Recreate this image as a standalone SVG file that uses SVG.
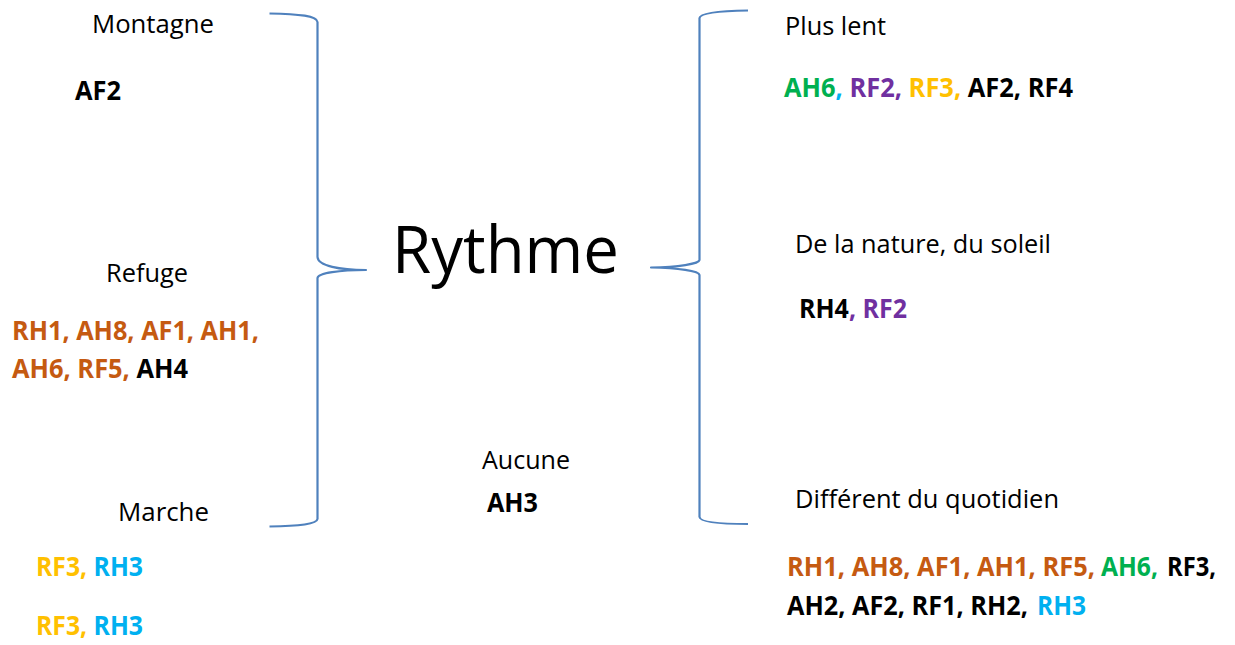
<svg xmlns="http://www.w3.org/2000/svg" width="1235" height="645" viewBox="0 0 1235 645">
  <style>
    .lbl { font-family: "Open Sans", "Liberation Sans", sans-serif; font-size: 26px; fill: #000; }
    .code { font-family: "Open Sans", "Liberation Sans", sans-serif; font-size: 26px; font-weight: bold; fill: #000; }
    .title { font-family: "Open Sans", "Liberation Sans", sans-serif; font-size: 66px; fill: #000; }
    .brace { fill: none; stroke: #4F81BD; stroke-width: 2.2; stroke-linejoin: round; }
    .or { fill: #C55A11; }
    .gr { fill: #00B050; }
    .pu { fill: #7030A0; }
    .ye { fill: #FFC000; }
    .cy { fill: #00B0F0; }
  </style>

  <!-- braces joining the categories to the central word -->
  <g id="connectors">
    <path class="brace" d="M269.5,13.5 C300,14 317,16 317.5,22 L317.5,257 C318,266 340,270 366,270 C340,270 318,273 317.5,278 L317.5,519 C317,524 300,526 269.5,526.5"/>
    <path class="brace" d="M748,10.5 C718,11 700,13 699.5,18 L699.5,260 C699,264 678,267 651,267.5 C678,268 699,271 699.5,275 L699.5,517 C700,522 718,524 748,524"/>
  </g>

  <g id="rythme">
    <text class="title" x="392" y="273" textLength="227" lengthAdjust="spacingAndGlyphs">Rythme</text>
  </g>

  <g id="montagne">
    <text class="lbl" x="92" y="33" textLength="122" lengthAdjust="spacingAndGlyphs">Montagne</text>
    <text class="code" x="75" y="100" textLength="46" lengthAdjust="spacingAndGlyphs">AF2</text>
  </g>

  <g id="refuge">
    <text class="lbl" x="106" y="282" textLength="82" lengthAdjust="spacingAndGlyphs">Refuge</text>
    <text class="code" x="12" y="340" textLength="247" lengthAdjust="spacingAndGlyphs"><tspan class="or">RH1, AH8, AF1, AH1,</tspan></text>
    <text class="code" x="12" y="378" textLength="176" lengthAdjust="spacingAndGlyphs"><tspan class="or">AH6, RF5,</tspan> AH4</text>
  </g>

  <g id="marche">
    <text class="lbl" x="118" y="521" textLength="91" lengthAdjust="spacingAndGlyphs">Marche</text>
    <text class="code" x="36" y="576" textLength="107" lengthAdjust="spacingAndGlyphs"><tspan class="ye">RF3,</tspan><tspan class="cy"> RH3</tspan></text>
    <text class="code" x="36" y="635" textLength="107" lengthAdjust="spacingAndGlyphs"><tspan class="ye">RF3,</tspan><tspan class="cy"> RH3</tspan></text>
  </g>

  <g id="aucune">
    <text class="lbl" x="482" y="469" textLength="88" lengthAdjust="spacingAndGlyphs">Aucune</text>
    <text class="code" x="487" y="512" textLength="51" lengthAdjust="spacingAndGlyphs">AH3</text>
  </g>

  <g id="plus-lent">
    <text class="lbl" x="785" y="35" textLength="101" lengthAdjust="spacingAndGlyphs">Plus lent</text>
    <text class="code" x="784" y="97" textLength="289" lengthAdjust="spacingAndGlyphs"><tspan class="gr">AH6</tspan><tspan class="cy">,</tspan><tspan class="pu"> RF2,</tspan><tspan class="ye"> RF3,</tspan> AF2, RF4</text>
  </g>

  <g id="nature">
    <text class="lbl" x="795" y="253" textLength="256" lengthAdjust="spacingAndGlyphs">De la nature, du soleil</text>
    <text class="code" x="799" y="318" textLength="108" lengthAdjust="spacingAndGlyphs">RH4<tspan class="pu">, RF2</tspan></text>
  </g>

  <g id="quotidien">
    <text class="lbl" x="795" y="508" textLength="264" lengthAdjust="spacingAndGlyphs">Différent du quotidien</text>
    <!-- first line of codes, one run per colour -->
    <text class="code or" x="787" y="576" textLength="308" lengthAdjust="spacingAndGlyphs">RH1, AH8, AF1, AH1, RF5,</text>
    <text class="code gr" x="1101" y="576" textLength="57" lengthAdjust="spacingAndGlyphs">AH6,</text>
    <text class="code" x="1167" y="576" textLength="49" lengthAdjust="spacingAndGlyphs">RF3,</text>
    <!-- second line of codes -->
    <text class="code" x="787" y="615" textLength="241" lengthAdjust="spacingAndGlyphs">AH2, AF2, RF1, RH2,</text>
    <text class="code cy" x="1037" y="615" textLength="49" lengthAdjust="spacingAndGlyphs">RH3</text>
  </g>
</svg>
